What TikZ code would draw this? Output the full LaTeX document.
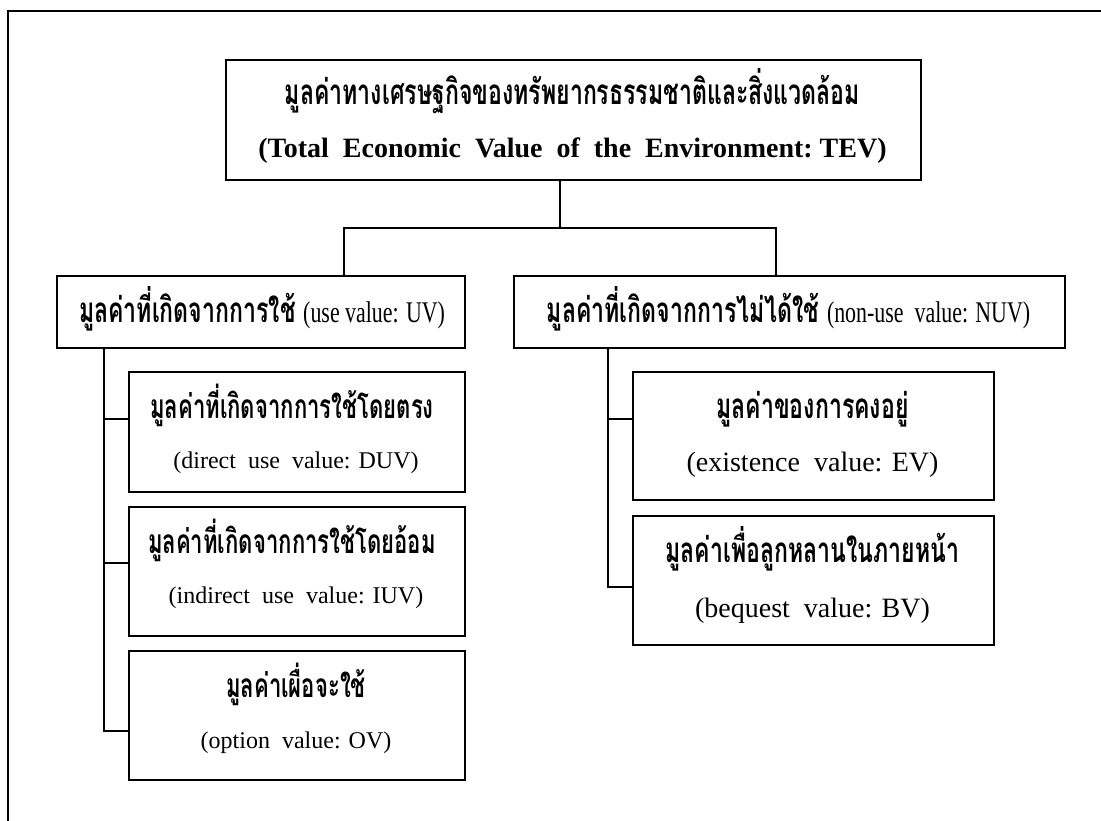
\documentclass[tikz,border=0pt]{standalone}
\usepackage{fontspec}
\setmainfont{Liberation Serif}
\newfontfamily\thaifont[Script=Thai,FakeStretch=0.66]{Loma}
\newfontfamily\condserif[FakeStretch=0.73]{Liberation Serif}
\begin{document}
\begin{tikzpicture}[x=1pt,y=-1pt,
  box/.style={draw, line width=2pt, anchor=north west, inner sep=0pt},
  conn/.style={line width=2pt},
  frameline/.style={line width=2.5pt},
  txt/.style={anchor=base, inner sep=0pt},
  thBig/.style={txt, font=\thaifont\bfseries\fontsize{35}{38}\selectfont},
  thL/.style={txt, font=\thaifont\bfseries\fontsize{33.5}{36}\selectfont},
  thR/.style={txt, font=\thaifont\bfseries\fontsize{35}{38}\selectfont},
  enTitle/.style={txt, font=\bfseries\fontsize{28}{30}\selectfont},
  enL/.style={txt, font=\fontsize{24}{26}\selectfont},
  enR/.style={txt, font=\fontsize{28}{30}\selectfont},
  rowtxt/.style={txt, font=\fontsize{30}{32}\selectfont}
]
\useasboundingbox (0,0) rectangle (1101,821);
% frame
\coordinate (fB) at (8,822);
\coordinate (fTL) at (8,11);
\coordinate (fR) at (1102,11);
\draw[frameline] (fB) -- (fTL) -- (fR);
% boxes
\node[box, minimum width=695pt, minimum height=120pt] (tev) at (225,59) {};
\node[box, minimum width=408pt, minimum height=72pt] (uv) at (56,275) {};
\node[box, minimum width=551pt, minimum height=72pt] (nuv) at (513,275) {};
\node[box, minimum width=336pt, minimum height=120pt] (duv) at (128,371) {};
\node[box, minimum width=336pt, minimum height=129pt] (iuv) at (128,506) {};
\node[box, minimum width=336pt, minimum height=129pt] (ov) at (128,650) {};
\node[box, minimum width=361pt, minimum height=128pt] (ev) at (632,371) {};
\node[box, minimum width=361pt, minimum height=129pt] (bv) at (632,515) {};
% texts
\node[thBig] (tevTh) at (572.5,105) {มูลค่าทางเศรษฐกิจของทรัพยากรธรรมชาติและสิ่งแวดล้อม};
\node[enTitle] (tevEn) at (572.5,158) {(Total\ \ Economic\ \ Value\ \ of\ \ the\ \ Environment:\ TEV)};
\node[rowtxt] (uvT) at (262,322) {{\thaifont\bfseries\fontsize{35}{38}\selectfont มูลค่าที่เกิดจากการใช้} {\condserif (use value: UV)}};
\node[rowtxt] (nuvT) at (788.5,322) {{\thaifont\bfseries\fontsize{35}{38}\selectfont มูลค่าที่เกิดจากการไม่ได้ใช้} {\condserif (non-use\ \ value: NUV)}};
\node[thL] (duvTh) at (292,418) {มูลค่าที่เกิดจากการใช้โดยตรง};
\node[enL] (duvEn) at (296,468) {(direct\ \ use\ \ value: DUV)};
\node[thL] (iuvTh) at (292,553) {มูลค่าที่เกิดจากการใช้โดยอ้อม};
\node[enL] (iuvEn) at (296,603) {(indirect\ \ use\ \ value: IUV)};
\node[thL] (ovTh) at (296,697) {มูลค่าเผื่อจะใช้};
\node[enL] (ovEn) at (296,748) {(option\ \ value: OV)};
\node[thR] (evTh) at (812.5,418) {มูลค่าของการคงอยู่};
\node[enR] (evEn) at (812.5,471) {(existence\ \ value: EV)};
\node[thR] (bvTh) at (812.5,562) {มูลค่าเพื่อลูกหลานในภายหน้า};
\node[enR] (bvEn) at (812.5,617) {(bequest\ \ value: BV)};
% connectors
\coordinate (bM) at (560,228);
\coordinate (bL) at (344,228);
\coordinate (bR) at (776,228);
\draw[conn] (tev.south -| bM) -- (bM);
\draw[conn] (bL |- uv.north) -- (bL) -- (bR) -- (bR |- nuv.north);
\coordinate (uT) at (104,731);
\coordinate (uD) at (104,419);
\coordinate (uI) at (104,563);
\draw[conn] (uv.south -| uT) -- (uT) -- (uT -| ov.west);
\draw[conn] (uD) -- (uD -| duv.west);
\draw[conn] (uI) -- (uI -| iuv.west);
\coordinate (nB) at (608,587);
\coordinate (nE) at (608,419);
\draw[conn] (nuv.south -| nB) -- (nB) -- (nB -| bv.west);
\draw[conn] (nE) -- (nE -| ev.west);
\end{tikzpicture}
\end{document}
